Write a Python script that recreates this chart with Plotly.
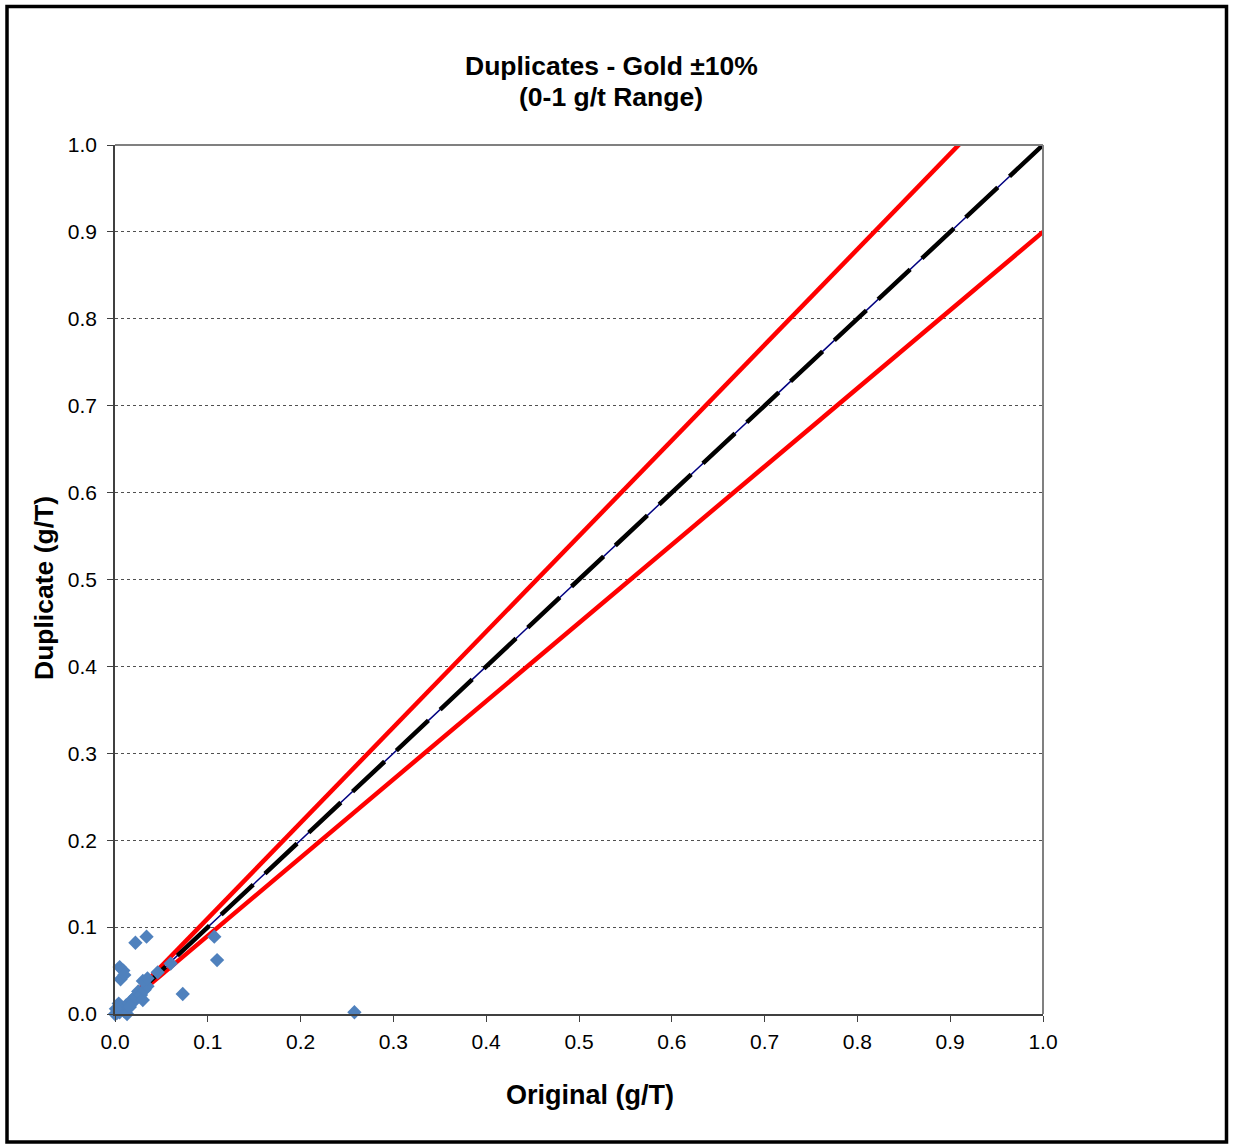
import plotly.graph_objects as go

# ---- data ----
original = [0.000, 0.002, 0.003, 0.005, 0.006, 0.008, 0.010, 0.012, 0.004, 0.015,
            0.018, 0.020, 0.022, 0.025, 0.028, 0.030, 0.032, 0.035, 0.030, 0.035,
            0.046, 0.060, 0.005, 0.009, 0.006, 0.010, 0.022, 0.034, 0.107, 0.110,
            0.073, 0.258, 0.013, 0.001, 0.016]
duplicate = [0.000, 0.001, 0.004, 0.002, 0.008, 0.005, 0.003, 0.010, 0.012, 0.012,
             0.016, 0.014, 0.020, 0.026, 0.022, 0.016, 0.028, 0.032, 0.038, 0.041,
             0.048, 0.058, 0.054, 0.050, 0.040, 0.045, 0.082, 0.089, 0.089, 0.062,
             0.023, 0.002, 0.000, 0.006, 0.008]

line_x = [0.02, 1.0]
one_to_one = [0.02, 1.0]
upper_10 = [0.022, 1.1]
lower_10 = [0.018, 0.9]

tick_vals = [0.0, 0.1, 0.2, 0.3, 0.4, 0.5, 0.6, 0.7, 0.8, 0.9, 1.0]
tick_text = ["0.0", "0.1", "0.2", "0.3", "0.4", "0.5", "0.6", "0.7", "0.8", "0.9", "1.0"]

FONT = "Arial, Liberation Sans, sans-serif"
W, H = 1233, 1144
L, R, T, B = 115, 1043, 145, 1014


def px_x(px):
    return (px - L) / (R - L)


def px_y(py):
    return (B - py) / (B - T)


fig = go.Figure()
fig.add_trace(go.Scatter(x=line_x, y=upper_10, mode="lines",
                         line=dict(color="#FF0000", width=4.5), showlegend=False))
fig.add_trace(go.Scatter(x=line_x, y=lower_10, mode="lines",
                         line=dict(color="#FF0000", width=4.5), showlegend=False))
fig.add_trace(go.Scatter(x=line_x, y=one_to_one, mode="lines",
                         line=dict(color="#000080", width=1.5), showlegend=False))
fig.add_trace(go.Scatter(x=line_x, y=one_to_one, mode="lines",
                         line=dict(color="#000000", width=4.5, dash="44px,16px"), showlegend=False))
fig.add_trace(go.Scatter(x=original, y=duplicate, mode="markers",
                         marker=dict(symbol="diamond", size=11, color="#4F81BD",
                                     line=dict(width=0)),
                         cliponaxis=False, showlegend=False))

axis_common = dict(range=[0, 1], tickvals=tick_vals, ticktext=tick_text,
                   showline=True, linecolor="#404040", linewidth=1.5,
                   ticks="outside", ticklen=6, tickcolor="#404040", tickwidth=1,
                   zeroline=False, tickfont=dict(family=FONT, size=21, color="#000000"))

fig.update_xaxes(**axis_common, showgrid=False, ticklabelstandoff=2)
fig.update_yaxes(**axis_common, showgrid=True, gridcolor="#505050", gridwidth=1,
                 griddash="dot", ticklabelstandoff=6)

shapes = [
    dict(type="line", xref="paper", yref="paper", x0=0, x1=1, y0=1, y1=1,
         line=dict(color="#808080", width=2)),
    dict(type="line", xref="paper", yref="paper", x0=1, x1=1, y0=0, y1=1,
         line=dict(color="#808080", width=2)),
    dict(type="rect", xref="paper", yref="paper",
         x0=px_x(7), x1=px_x(1226.5), y0=px_y(1142), y1=px_y(6.5),
         line=dict(color="#000000", width=3.5)),
]

annotations = [
    dict(text="<b>Duplicates - Gold ±10%</b>", x=px_x(611), y=px_y(66),
         xref="paper", yref="paper", showarrow=False, xanchor="center", yanchor="middle",
         font=dict(family=FONT, size=26.5, color="#000000")),
    dict(text="<b>(0-1 g/t Range)</b>", x=px_x(611), y=px_y(97),
         xref="paper", yref="paper", showarrow=False, xanchor="center", yanchor="middle",
         font=dict(family=FONT, size=26.5, color="#000000")),
    dict(text="<b>Original (g/T)</b>", x=px_x(590), y=px_y(1095),
         xref="paper", yref="paper", showarrow=False, xanchor="center", yanchor="middle",
         font=dict(family=FONT, size=27, color="#000000")),
    dict(text="<b>Duplicate (g/T)</b>", x=px_x(44), y=px_y(588), textangle=-90,
         xref="paper", yref="paper", showarrow=False, xanchor="center", yanchor="middle",
         font=dict(family=FONT, size=26.5, color="#000000")),
]

fig.update_layout(width=W, height=H,
                  margin=dict(l=L, r=W - R, t=T, b=H - B, pad=0),
                  paper_bgcolor="#FFFFFF", plot_bgcolor="#FFFFFF",
                  shapes=shapes, annotations=annotations, showlegend=False)

fig.write_html("out.html", config={"displayModeBar": False},
               post_script="document.body.style.margin='0';document.body.style.overflow='hidden';")
